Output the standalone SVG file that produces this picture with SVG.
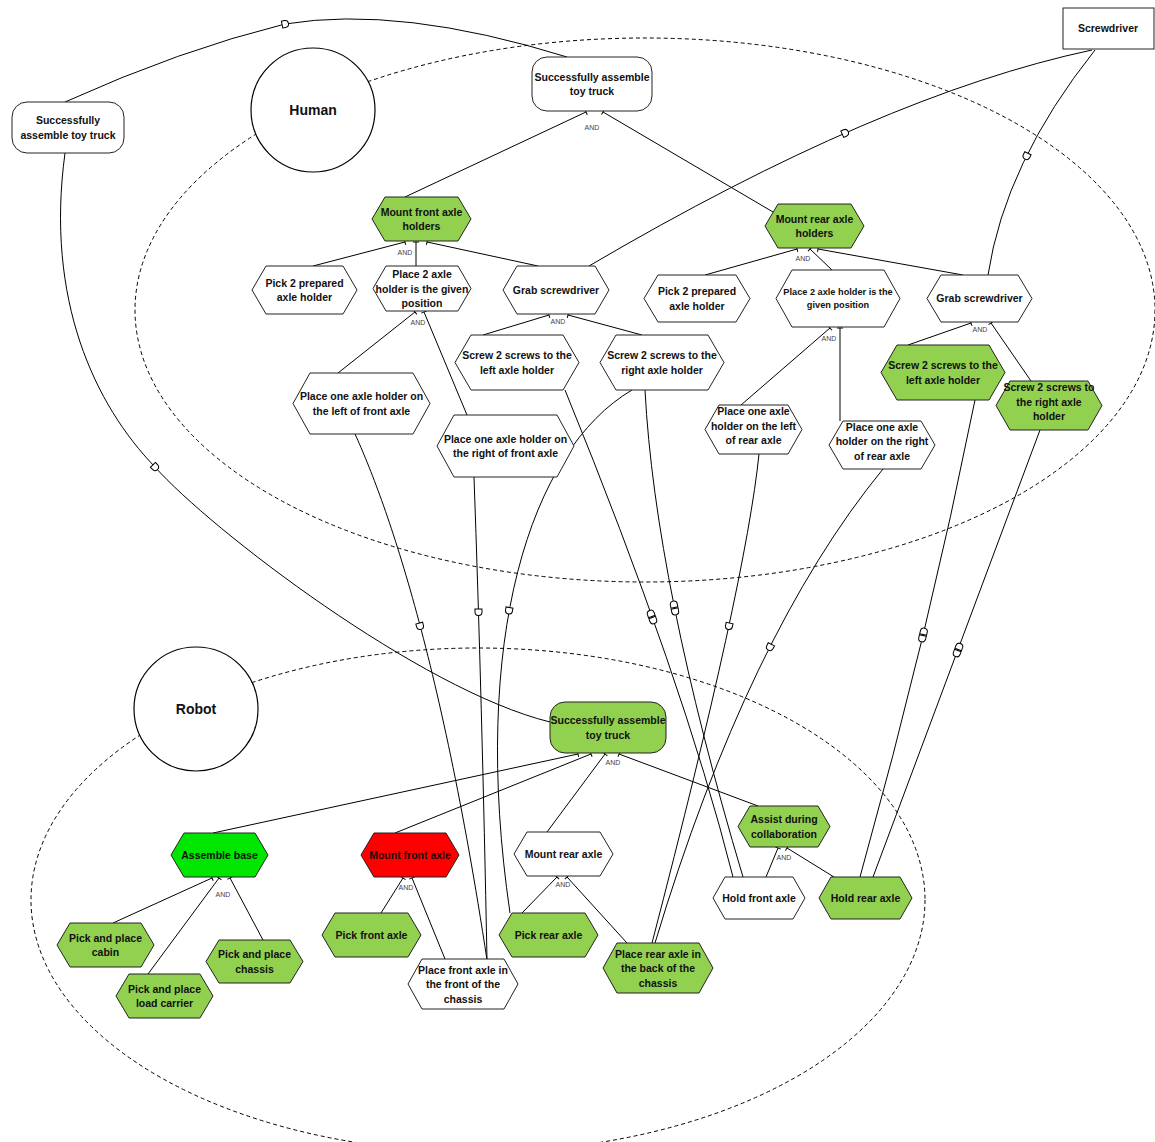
<svg xmlns="http://www.w3.org/2000/svg" xmlns:xlink="http://www.w3.org/1999/xlink" width="1155" height="1142" viewBox="0 0 1155 1142">
<style>
.bnd{fill:none;stroke:#000;stroke-width:1;stroke-dasharray:4 3}
.actor{fill:#fff;stroke:#000;stroke-width:1.2}
.n{stroke:#222;stroke-width:1}
.g{fill:#92d050}
.w{fill:#fff}
.bg{fill:#00e600}
.r{fill:#ff0000}
.dep{fill:none;stroke:#000;stroke-width:1}
.dec{fill:none;stroke:#000;stroke-width:1;marker-end:url(#tbar)}
text{font-family:"Liberation Sans",Arial,sans-serif;font-weight:bold;font-size:10.5px;text-anchor:middle;fill:#111}
text.s9{font-size:9.2px}
text.big{font-size:14px}
text.and{font-size:7px;font-weight:normal;fill:#444}
</style>
<defs>
<marker id="tbar" markerWidth="8" markerHeight="8" refX="1" refY="4" orient="auto" markerUnits="userSpaceOnUse">
<path d="M1,1 L1,7" stroke="#000" stroke-width="1"/>
</marker>
<path id="D" d="M-3,-3.5 H0 A3.5,3.5 0 0 1 0,3.5 H-3 Z" fill="#fff" stroke="#000" stroke-width="1"/>
<g id="DD"><use xlink:href="#D" transform="translate(3.5,0)"/><use xlink:href="#D" transform="translate(-3.5,0) rotate(180)"/></g>
</defs>
<rect width="1155" height="1142" fill="#fff"/>

<g id="boundaries">
<ellipse class="bnd" cx="645" cy="310" rx="510" ry="272"/>
<ellipse class="bnd" cx="478" cy="900" rx="447" ry="252"/>
</g>
<g id="actor-human"><circle class="actor" cx="313" cy="110" r="62"/><text class="big" x="313" y="115">Human</text></g>
<g id="actor-robot"><circle class="actor" cx="196" cy="709" r="62"/><text class="big" x="196" y="714">Robot</text></g>

<g id="connectors">
<!-- decompositions human -->
<line class="dec" x1="405" y1="197" x2="586" y2="112"/>
<line class="dec" x1="773" y1="212" x2="603" y2="112"/>
<line class="dec" x1="313" y1="266" x2="405" y2="242"/>
<line class="dec" x1="416" y1="266" x2="416" y2="242"/>
<line class="dec" x1="538" y1="266" x2="427" y2="242"/>
<line class="dec" x1="338" y1="373" x2="415" y2="312"/>
<line class="dec" x1="467" y1="415" x2="424" y2="312"/>
<line class="dec" x1="483" y1="335" x2="549" y2="315"/>
<line class="dec" x1="642" y1="335" x2="568" y2="315"/>
<line class="dec" x1="705" y1="275" x2="797" y2="249"/>
<line class="dec" x1="832" y1="270" x2="810" y2="249"/>
<line class="dec" x1="963" y1="275" x2="818" y2="249"/>
<line class="dec" x1="741" y1="405" x2="830" y2="328"/>
<line class="dec" x1="840" y1="421" x2="840" y2="328"/>
<line class="dec" x1="908" y1="345" x2="971" y2="323"/>
<line class="dec" x1="1031" y1="381" x2="991" y2="323"/>
<!-- decompositions robot -->
<line class="dec" x1="213" y1="833" x2="578" y2="754"/>
<line class="dec" x1="395" y1="833" x2="591" y2="754"/>
<line class="dec" x1="547" y1="832" x2="605" y2="754"/>
<line class="dec" x1="758" y1="806" x2="619" y2="754"/>
<line class="dec" x1="113" y1="923" x2="212" y2="878"/>
<line class="dec" x1="148" y1="974" x2="219" y2="878"/>
<line class="dec" x1="263" y1="940" x2="230" y2="878"/>
<line class="dec" x1="381" y1="913" x2="403" y2="878"/>
<line class="dec" x1="445" y1="959" x2="412" y2="878"/>
<line class="dec" x1="522" y1="913" x2="557" y2="877"/>
<line class="dec" x1="627" y1="943" x2="567" y2="877"/>
<line class="dec" x1="766" y1="877" x2="778" y2="848"/>
<line class="dec" x1="834" y1="877" x2="787" y2="848"/>
<!-- dependencies -->
<path class="dep" d="M65,102 Q180,50 285,24 Q400,5 567,57"/>
<path class="dep" d="M65,153 C45,300 95,405 155,467 C210,529 420,690 550,722"/>
<path class="dep" d="M589,266 Q880,95 1092,50"/>
<path class="dep" d="M1095,50 Q1005,163 988,275"/>
<path class="dep" d="M355,434 C385,500 440,650 487,960"/>
<path class="dep" d="M474,477 Q482,700 487,960"/>
<path class="dep" d="M632,390 C530,450 470,640 510,913"/>
<path class="dep" d="M565,390 Q683,679 733,877"/>
<path class="dep" d="M645,390 Q655,582 743,877"/>
<path class="dep" d="M759,454 Q746,582 652,943"/>
<path class="dep" d="M883,469 Q748,634 655,943"/>
<path class="dep" d="M975,400 Q928.6,632 860,877"/>
<path class="dep" d="M1040,430 L873,877"/>
<!-- D markers -->
<use xlink:href="#D" transform="translate(285,24) rotate(-11)"/>
<use xlink:href="#D" transform="translate(155,467) rotate(46)"/>
<use xlink:href="#D" transform="translate(845,133) rotate(-24)"/>
<use xlink:href="#D" transform="translate(1026.6,156) rotate(116)"/>
<use xlink:href="#D" transform="translate(420,626) rotate(75)"/>
<use xlink:href="#D" transform="translate(478.5,612) rotate(89)"/>
<use xlink:href="#D" transform="translate(509,610.5) rotate(100)"/>
<use xlink:href="#D" transform="translate(729,626) rotate(102)"/>
<use xlink:href="#D" transform="translate(770,647) rotate(117)"/>
<use xlink:href="#DD" transform="translate(652,617) rotate(70)"/>
<use xlink:href="#DD" transform="translate(674.5,608) rotate(79)"/>
<use xlink:href="#DD" transform="translate(923,635) rotate(103.5)"/>
<use xlink:href="#DD" transform="translate(958,650) rotate(110.5)"/>
<!-- AND labels -->
<text class="and" x="592" y="130">AND</text>
<text class="and" x="405" y="255">AND</text>
<text class="and" x="418" y="325">AND</text>
<text class="and" x="558" y="324">AND</text>
<text class="and" x="803" y="261">AND</text>
<text class="and" x="829" y="341">AND</text>
<text class="and" x="980" y="332">AND</text>
<text class="and" x="613" y="765">AND</text>
<text class="and" x="223" y="897">AND</text>
<text class="and" x="406" y="890">AND</text>
<text class="and" x="563" y="887">AND</text>
<text class="and" x="784" y="860">AND</text>
</g>

<g id="goal-left"><rect class="n w" x="12" y="102" width="112" height="51" rx="15"/><text x="68" y="124">Successfully</text><text x="68" y="139">assemble toy truck</text></g>
<g id="screwdriver"><rect class="n w" x="1063" y="8" width="91" height="41"/><text x="1108" y="32">Screwdriver</text></g>

<g id="h-goal"><rect class="n w" x="532" y="57" width="120" height="54" rx="15"/><text x="592" y="81">Successfully assemble</text><text x="592" y="95">toy truck</text></g>
<g id="h-mount-front-axle-holders"><polygon class="n g" points="385,197 458,197 471,219 458,241 385,241 372,219"/><text x="421.5" y="215.5">Mount front axle</text><text x="421.5" y="230">holders</text></g>
<g id="h-mount-rear-axle-holders"><polygon class="n g" points="778,204 851,204 864,226 851,248 778,248 765,226"/><text x="814.5" y="222.5">Mount rear axle</text><text x="814.5" y="237">holders</text></g>
<g id="h-pick2-left"><polygon class="n w" points="266,266 343,266 357,290 343,314 266,314 252,290"/><text x="304.5" y="286.5">Pick 2 prepared</text><text x="304.5" y="301">axle holder</text></g>
<g id="h-place2-left"><polygon class="n w" points="386,266 458,266 471,288.5 458,311 386,311 373,288.5"/><text x="422" y="278">Place 2 axle</text><text x="422" y="292.5">holder is the given</text><text x="422" y="307">position</text></g>
<g id="h-grab-left"><polygon class="n w" points="517,266 595,266 609,290 595,314 517,314 503,290"/><text x="556" y="294">Grab screwdriver</text></g>
<g id="h-screw-left-w"><polygon class="n w" points="471,335 563,335 579,362.5 563,390 471,390 455,362.5"/><text x="517" y="359">Screw 2 screws to the</text><text x="517" y="373.5">left axle holder</text></g>
<g id="h-screw-right-w"><polygon class="n w" points="616,335 708,335 724,362.5 708,390 616,390 600,362.5"/><text x="662" y="359">Screw 2 screws to the</text><text x="662" y="373.5">right axle holder</text></g>
<g id="h-place-left-front"><polygon class="n w" points="310,373 413,373 430,403.5 413,434 310,434 293,403.5"/><text x="361.5" y="400">Place one axle holder on</text><text x="361.5" y="414.5">the left of front axle</text></g>
<g id="h-place-right-front"><polygon class="n w" points="454,415 557,415 574,446 557,477 454,477 437,446"/><text x="505.5" y="442.5">Place one axle holder on</text><text x="505.5" y="457">the right of front axle</text></g>
<g id="h-pick2-right"><polygon class="n w" points="658,275 736,275 750,298.5 736,322 658,322 644,298.5"/><text x="697" y="295">Pick 2 prepared</text><text x="697" y="309.5">axle holder</text></g>
<g id="h-place2-right"><polygon class="n w" points="792,270 884,270 900,298.5 884,327 792,327 776,298.5"/><text class="s9" x="838" y="295">Place 2 axle holder is the</text><text class="s9" x="838" y="308">given position</text></g>
<g id="h-grab-right"><polygon class="n w" points="941,275 1018,275 1032,298.5 1018,322 941,322 927,298.5"/><text x="979.5" y="302">Grab screwdriver</text></g>
<g id="h-screw-left-g"><polygon class="n g" points="897,345 989,345 1005,372.5 989,400 897,400 881,372.5"/><text x="943" y="369">Screw 2 screws to the</text><text x="943" y="383.5">left axle holder</text></g>
<g id="h-screw-right-g"><polygon class="n g" points="1010,381 1088,381 1102,405.5 1088,430 1010,430 996,405.5"/><text x="1049" y="391">Screw 2 screws to</text><text x="1049" y="405.5">the right axle</text><text x="1049" y="420">holder</text></g>
<g id="h-place-left-rear"><polygon class="n w" points="719,405 788,405 802,429.5 788,454 719,454 705,429.5"/><text x="753.5" y="415">Place one axle</text><text x="753.5" y="429.5">holder on the left</text><text x="753.5" y="444">of rear axle</text></g>
<g id="h-place-right-rear"><polygon class="n w" points="843,421 921,421 935,445 921,469 843,469 829,445"/><text x="882" y="430.5">Place one axle</text><text x="882" y="445">holder on the right</text><text x="882" y="459.5">of rear axle</text></g>

<g id="r-goal"><rect class="n g" x="550" y="702" width="116" height="51" rx="15"/><text x="608" y="724">Successfully assemble</text><text x="608" y="739">toy truck</text></g>
<g id="r-assemble-base"><polygon class="n bg" points="184,833 255,833 268,855 255,877 184,877 171,855"/><text x="219.5" y="859">Assemble base</text></g>
<g id="r-mount-front-axle"><polygon class="n r" points="374,833 446,833 459,855 446,877 374,877 361,855"/><text x="410" y="859">Mount front axle</text></g>
<g id="r-mount-rear-axle"><polygon class="n w" points="527,832 600,832 613,854 600,876 527,876 514,854"/><text x="563.5" y="858">Mount rear axle</text></g>
<g id="r-assist"><polygon class="n g" points="750,806 818,806 830,826.5 818,847 750,847 738,826.5"/><text x="784" y="823">Assist during</text><text x="784" y="837.5">collaboration</text></g>
<g id="r-hold-front"><polygon class="n w" points="725,877 793,877 805,898 793,919 725,919 713,898"/><text x="759" y="902">Hold front axle</text></g>
<g id="r-hold-rear"><polygon class="n g" points="831,877 900,877 912,898 900,919 831,919 819,898"/><text x="865.5" y="902">Hold rear axle</text></g>
<g id="r-pp-cabin"><polygon class="n g" points="70,923 141,923 154,945 141,967 70,967 57,945"/><text x="105.5" y="941.5">Pick and place</text><text x="105.5" y="956">cabin</text></g>
<g id="r-pp-load"><polygon class="n g" points="129,974 200,974 213,996 200,1018 129,1018 116,996"/><text x="164.5" y="992.5">Pick and place</text><text x="164.5" y="1007">load carrier</text></g>
<g id="r-pp-chassis"><polygon class="n g" points="219,940 290,940 303,961.5 290,983 219,983 206,961.5"/><text x="254.5" y="958">Pick and place</text><text x="254.5" y="972.5">chassis</text></g>
<g id="r-pick-front"><polygon class="n g" points="335,913 408,913 421,935 408,957 335,957 322,935"/><text x="371.5" y="939">Pick front axle</text></g>
<g id="r-place-front"><polygon class="n w" points="422,959 504,959 518,984 504,1009 422,1009 408,984"/><text x="463" y="973.5">Place front axle in</text><text x="463" y="988">the front of the</text><text x="463" y="1002.5">chassis</text></g>
<g id="r-pick-rear"><polygon class="n g" points="512,913 585,913 598,935 585,957 512,957 499,935"/><text x="548.5" y="939">Pick rear axle</text></g>
<g id="r-place-rear"><polygon class="n g" points="617,943 699,943 713,968 699,993 617,993 603,968"/><text x="658" y="957.5">Place rear axle in</text><text x="658" y="972">the back of the</text><text x="658" y="986.5">chassis</text></g>
</svg>
